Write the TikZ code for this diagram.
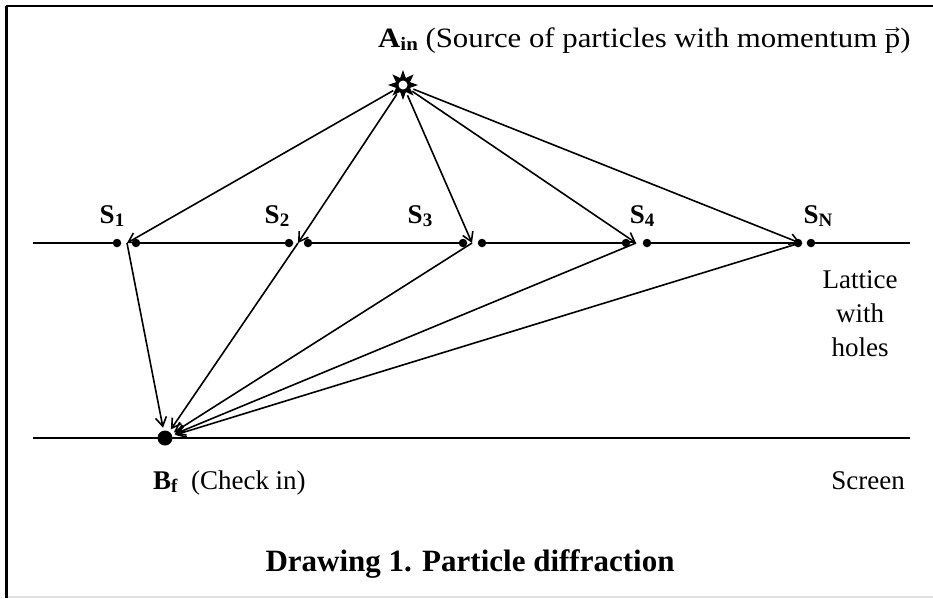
\documentclass[tikz,border=0pt]{standalone}
\usepackage{fontspec}
\setmainfont{Liberation Serif}
\newfontfamily\widefont{Liberation Serif}[FakeStretch=1.1]
\usetikzlibrary{shapes.geometric,arrows.meta}
\newcommand\mysub[1]{\raisebox{-0.12em}{\fontsize{19}{19}\selectfont #1}}
\newcommand\myvp{\ooalign{p\cr\hidewidth\raisebox{0.5em}{\fontsize{21}{21}\selectfont →}\hidewidth\cr}}
\begin{document}
\begin{tikzpicture}[x=1pt,y=-1pt,
  lbl/.style={inner sep=0pt, font=\fontsize{27}{34}\selectfont},
  ray/.style={line width=1.6pt, -{Straight Barb[length=9pt,width=11pt,line width=1.6pt]}},
  wall/.style={line width=2.4pt},
  holedot/.style={circle, fill, inner sep=0pt, minimum size=8.5pt},
  frameline/.style={line width=3pt}]
\useasboundingbox (0,0) rectangle (933,598);
% frame
\coordinate (fBL) at (6,598);
\coordinate (fTL) at (6,6);
\coordinate (fTR) at (933,6);
\coordinate (gL) at (6,597);
\coordinate (gR) at (933,597);
\draw[black!12, line width=1.5pt] (gL) -- (gR);
\draw[frameline] (fBL) -- (fTL);
\draw[line width=2.2pt] (fTL) -- (fTR);
% lattice
\coordinate (latL) at (33,243);
\coordinate (latR) at (910,243);
\node[holedot] (l1a) at (117,243) {};
\node[holedot] (l1b) at (136,243) {};
\node[holedot] (l2a) at (289,243) {};
\node[holedot] (l2b) at (308,243) {};
\node[holedot] (l3a) at (463,243) {};
\node[holedot] (l3b) at (482,243) {};
\node[holedot] (l4a) at (626,243) {};
\node[holedot] (l4b) at (647,243) {};
\node[holedot] (lNa) at (798,243) {};
\node[holedot] (lNb) at (811,243) {};
\draw[wall] (latL) -- (l1a.center);
\draw[wall] (l1b.center) -- (l2a.center);
\draw[wall] (l2b.center) -- (l3a.center);
\draw[wall] (l3b.center) -- (l4a.center);
\draw[wall] (l4b.center) -- (lNa.center);
\draw[wall] (lNb.center) -- (latR);
\coordinate (h1) at (127,243);
\coordinate (h2) at (298,243);
\coordinate (h3) at (472,243);
\coordinate (h4) at (636,243);
\coordinate (hN) at (800,243);
% screen
\coordinate (scrL) at (33,438);
\coordinate (scrR) at (910,438);
\draw[wall] (scrL) -- (scrR);
\node[circle, fill, inner sep=0pt, minimum size=15pt, outer sep=3pt] (B) at (165,438) {};
% source
\node[star, star points=8, star point ratio=2, fill, inner sep=0pt, minimum size=30pt] (Astar) at (403,85) {};
\node[circle, fill=white, inner sep=0pt, minimum size=9pt] (Aw) at (403,85) {};
\node[circle, inner sep=0pt, minimum size=22pt] (A) at (403,85) {};
% rays from source
\draw[ray] (A) -- (h1);
\draw[ray] (A) -- (h2);
\draw[ray] (A) -- (h3);
\draw[ray] (A) -- (h4);
\draw[ray] (A) -- (hN);
% rays to screen
\draw[ray] (h1) -- (B);
\draw[ray] (h2) -- (B);
\draw[ray] (h3) -- (B);
\draw[ray] (h4) -- (B);
\draw[ray] (hN) -- (B);
% labels
\node[inner sep=0pt, anchor=base west, font=\widefont\fontsize{28}{34}\selectfont] (Alab) at (378,47) {\textbf{A\mysub{in}} (Source of particles with momentum \myvp)};
\node[lbl, anchor=base] (s1) at (112,223) {\textbf{S\mysub{1}}};
\node[lbl, anchor=base] (s2) at (277,223) {\textbf{S\mysub{2}}};
\node[lbl, anchor=base] (s3) at (420,223) {\textbf{S\mysub{3}}};
\node[lbl, anchor=base] (s4) at (642,223) {\textbf{S\mysub{4}}};
\node[lbl, anchor=base] (sN) at (818,223) {\textbf{S\mysub{N}}};
\node[lbl, anchor=north, align=center] (latt) at (860,270) {Lattice\\with\\holes};
\node[lbl, anchor=base west] (blab) at (153,489) {\textbf{B\mysub{f}}\ \ (Check in)};
\node[lbl, anchor=base east] (scr) at (905,489) {Screen};
\node[inner sep=0pt, anchor=base, font=\fontsize{31}{36}\selectfont\bfseries] (title) at (470,571) {Drawing 1. Particle diffraction};
\end{tikzpicture}
\end{document}
